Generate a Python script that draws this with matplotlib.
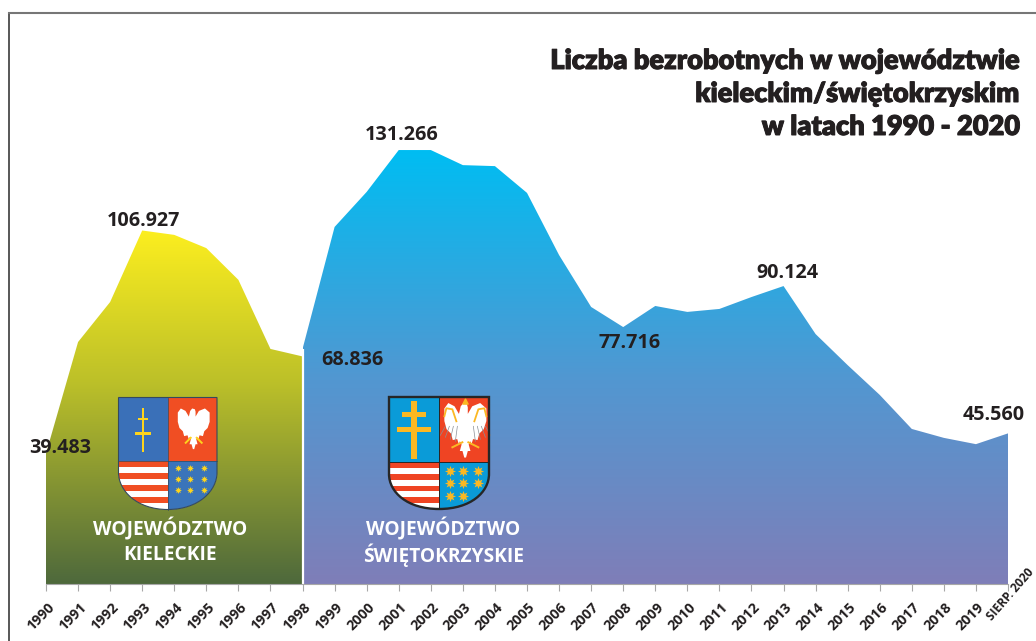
import numpy as np
import matplotlib
matplotlib.use('Agg')
import matplotlib.pyplot as plt
import matplotlib.patheffects as pe
from matplotlib.colors import LinearSegmentedColormap
from matplotlib.patches import PathPatch, Polygon, Rectangle
from matplotlib.path import Path
from matplotlib.transforms import ScaledTranslation

plt.rcParams['font.family'] = ['Open Sans', 'DejaVu Sans']

years_kieleckie = [1990, 1991, 1992, 1993, 1994, 1995, 1996, 1997, 1998]
values_kieleckie = [39483, 73200, 85300, 106927, 105600, 101600, 92000, 71100, 68836]

years_swietokrzyskie = [1998, 1999, 2000, 2001, 2002, 2003, 2004, 2005, 2006, 2007, 2008,
                        2009, 2010, 2011, 2012, 2013, 2014, 2015, 2016, 2017, 2018, 2019, 2020]
values_swietokrzyskie = [71100, 108000, 118600, 131266, 131266, 126700, 126400, 118300, 99500,
                         83800, 77716, 84100, 82300, 83200, 86800, 90124, 75600, 66200, 57200,
                         46900, 44200, 42300, 45560]

tick_years = list(range(1990, 2021))
tick_labels = [str(y) for y in range(1990, 2020)] + ['SIERP. 2020']

title_lines = ['Liczba bezrobotnych w województwie', 'kieleckim/świętokrzyskim', 'w latach 1990 - 2020']

TEXT = '#231f20'
W, H = 1036, 641
fig = plt.figure(figsize=(W / 100, H / 100), dpi=100, facecolor='white')

# nakładka w pikselach obrazka: ramka, tytuł, herby, podpisy
over = fig.add_axes([0, 0, 1, 1], zorder=3)
over.set_xlim(0, W)
over.set_ylim(H, 0)
over.axis('off')

# wykres właściwy: rok 1990 = 46 px, 2020 = 1008 px, zero = 584 px
ax = fig.add_axes([46 / W, (H - 584) / H, 962 / W, 570 / H], zorder=1)
ax.patch.set_alpha(0)
YMAX = 570 / 0.003306


def gradient_area(axis, xs, ys, stops):
    cmap = LinearSegmentedColormap.from_list('grad', stops)
    band = axis.fill_between(xs, 0, ys, facecolor='none', edgecolor='none')
    img = axis.imshow(np.linspace(0, 1, 256).reshape(-1, 1), cmap=cmap, aspect='auto',
                      extent=(min(xs), max(xs), 0, max(ys)), vmin=0, vmax=1, zorder=1)
    path = band.get_paths()[0]
    img.set_clip_path(path, axis.transData)


gradient_area(ax, years_kieleckie, values_kieleckie,
              [(0, '#fcee1f'), (0.43, '#bcc029'), (1, '#4e693c')])
gradient_area(ax, years_swietokrzyskie, values_swietokrzyskie,
              [(0, '#00bdf2'), (0.53, '#5297d1'), (1, '#7f7eb8')])
ax.vlines(1998, 0, 71100, color='white', lw=1.6, zorder=2)

ax.set_xlim(1990, 2020)
ax.set_ylim(0, YMAX)
ax.set_yticks([])
for side in ['top', 'left', 'right']:
    ax.spines[side].set_visible(False)
ax.spines['bottom'].set_color('#a8a8a8')
ax.spines['bottom'].set_linewidth(0.8)
ax.set_xticks(tick_years)
ax.set_xticklabels(tick_labels, rotation=45, ha='right', va='top', rotation_mode='anchor',
                   fontsize=10.3, fontweight='bold', color=TEXT)
ax.tick_params(axis='x', length=5, width=0.8, color='#a8a8a8', pad=8)
for lab in ax.get_xticklabels()[:-1]:
    lab.set_transform(lab.get_transform() + ScaledTranslation(1 / 100, 2 / 100, fig.dpi_scale_trans))
last = ax.get_xticklabels()[-1]
last.set_fontsize(8.6)
last.set_rotation(49)
last.set_transform(last.get_transform() + ScaledTranslation(19 / 100, 36 / 100, fig.dpi_scale_trans))

# ramka
over.plot([8.5, 8.5], [13, H], color='#4a4a4a', lw=1.3)
over.plot([8.5, W], [13, 13], color='#767676', lw=1.5)

for line, yc in zip(title_lines, [61, 94, 127]):
    over.text(1020, yc, line, ha='right', va='center', fontsize=19.6, fontweight='heavy',
              family=['Lato', 'Open Sans'], color=TEXT,
              path_effects=[pe.withStroke(linewidth=0.7, foreground=TEXT)])

value_labels = [('131.266', 402, 135), ('106.927', 143, 221), ('68.836', 352, 360),
                ('39.483', 60, 448), ('77.716', 630, 343), ('90.124', 787, 273), ('45.560', 994, 415)]
for txt, xc, yc in value_labels:
    over.text(xc, yc, txt, ha='center', va='center', fontsize=14.2, fontweight='bold', color=TEXT)

for txt, xc, yc in [('WOJEWÓDZTWO', 170, 529), ('KIELECKIE', 170, 555),
                    ('WOJEWÓDZTWO', 443, 529), ('ŚWIĘTOKRZYSKIE', 444, 555)]:
    over.text(xc, yc, txt, ha='center', va='center', fontsize=13.8, fontweight='bold', color='white')

EAGLE = np.array([(203, 62), (212, 52), (226, 58), (236, 72), (240, 58), (246, 52), (254, 54), (256, 60),
                  (256, 72), (266, 58), (284, 52), (298, 62), (298, 85), (292, 100), (282, 108), (278, 120),
                  (268, 118), (264, 128), (262, 122), (258, 128), (262, 140), (256, 140), (252, 152),
                  (248, 152), (244, 140), (238, 140), (242, 128), (238, 122), (236, 128), (232, 118),
                  (222, 120), (218, 108), (208, 100), (203, 85)], dtype=float)


def draw_shield(x0, x1, y0, ym, y1, blue1, blue2, red, gold, edge, edge_w, star_rows, star_size, cross, detailed):
    xm = (x0 + x1) / 2
    verts = [(x0, y0), (x1, y0), (x1, ym + 12),
             (x1, ym + 30), (x1 - 18, y1), (xm, y1),
             (x0 + 18, y1), (x0, ym + 30), (x0, ym + 12), (x0, y0)]
    codes = [Path.MOVETO, Path.LINETO, Path.LINETO, Path.CURVE4, Path.CURVE4, Path.CURVE4,
             Path.CURVE4, Path.CURVE4, Path.CURVE4, Path.CLOSEPOLY]
    outline = Path(verts, codes)
    clip = PathPatch(outline, facecolor='white', edgecolor='none', zorder=2)
    over.add_patch(clip)

    def clipped(artist):
        artist.set_clip_path(clip)
        return artist

    # ćwiartki
    clipped(over.add_patch(Rectangle((x0, y0), xm - x0, ym - y0, fc=blue1, ec='none', zorder=3)))
    clipped(over.add_patch(Rectangle((xm, y0), x1 - xm, ym - y0, fc=red, ec='none', zorder=3)))
    clipped(over.add_patch(Rectangle((xm, ym), x1 - xm, y1 - ym, fc=blue2, ec='none', zorder=3)))
    band = (y1 - ym) / 8
    for i in range(0, 8, 2):
        clipped(over.add_patch(Rectangle((x0, ym + i * band), xm - x0, band, fc=red, ec='none', zorder=3)))

    # krzyż dwuramienny
    qx = (x0 + xm) / 2
    qh = ym - y0
    scale = (xm - x0) / 147
    top, bottom, stem, bars, bar_h = cross
    over.add_patch(Rectangle((qx - stem * scale / 2, y0 + top * qh), stem * scale, (bottom - top) * qh,
                             fc=gold, ec='none', zorder=4))
    for frac, half in bars:
        over.add_patch(Rectangle((qx - half * scale, y0 + frac * qh - bar_h * scale / 2), 2 * half * scale,
                                 bar_h * scale, fc=gold, ec='none', zorder=4))

    # orzeł
    ex = xm + (EAGLE[:, 0] - 173) / 147 * (x1 - xm)
    ey = y0 + (EAGLE[:, 1] - 25) / 155 * (ym - y0)
    if detailed:
        cx, cy = (ex.min() + ex.max()) / 2, (ey.min() + ey.max()) / 2
        ex = cx + (ex - cx) * 1.3
        ey = cy + (ey - cy) * 1.3 + 1
    over.add_patch(Polygon(np.column_stack([ex, ey]), closed=True, fc='white', ec='none', zorder=4))
    ec_x, ec_y = (ex.min() + ex.max()) / 2, (ey.min() + ey.max()) / 2
    leg = 13 if detailed else 8
    drop = 12 if detailed else 9
    over.plot([ec_x - 3, ec_x - leg], [ec_y + drop, ec_y + drop + 5], color=gold, lw=1.4, zorder=5)
    over.plot([ec_x + 3, ec_x + leg], [ec_y + drop, ec_y + drop + 5], color=gold, lw=1.4, zorder=5)
    if detailed:
        for sign in [-1, 1]:
            over.plot(ec_x + sign * np.array([9, 13, 19, 21]), ec_y + np.array([-9, -21, -22, -14]),
                      color=gold, lw=1.3, zorder=5)
            for k in range(4):
                over.plot(ec_x + sign * np.array([8 + 4 * k, 10 + 5 * k]), ec_y + np.array([-4, 11 - 2 * k]),
                          color='#8a8f96', lw=0.5, zorder=5)
        over.scatter([ec_x], [ey.min() - 2], marker='^', s=14, color=gold, zorder=5)

    # gwiazdy
    qsx = (x1 - xm) / 147
    for row in star_rows:
        xs = [xm + (sx - 173) * qsx for sx in row[1]]
        ys = [ym + (row[0] - 180) * (y1 - ym) / 180] * len(xs)
        over.scatter(xs, ys, marker=(8, 1, 0), s=star_size, color=gold, linewidths=0, zorder=4)

    over.add_patch(PathPatch(outline, facecolor='none', edgecolor=edge, lw=edge_w, zorder=6))
    over.plot([xm, xm], [y0, y1], color=edge, lw=0.5 if not detailed else 0.7, zorder=5)
    over.plot([x0, x1], [ym, ym], color=edge, lw=0.5 if not detailed else 0.7, zorder=5)


draw_shield(118.5, 217, 397.5, 460.5, 509.5, '#3a70b8', '#3a74ba', '#f04e23', '#fdd41c', '#34495e', 0.8,
            [(208, [203, 240, 280]), (248, [203, 240, 280]), (288, [203, 240, 280])], 25,
            (0.16, 0.86, 8, [(0.34, 15), (0.57, 23)], 7), False)
draw_shield(389, 489, 397, 462, 509, '#0a9bd8', '#0a9bd8', '#ef4423', '#fbb823', '#262626', 1.7,
            [(214, [205, 245, 287]), (261, [205, 245, 287]), (309, [205, 245])], 64,
            (0.06, 0.95, 20, [(0.27, 34), (0.50, 50)], 17), True)

fig.savefig('out.png', dpi=100)
